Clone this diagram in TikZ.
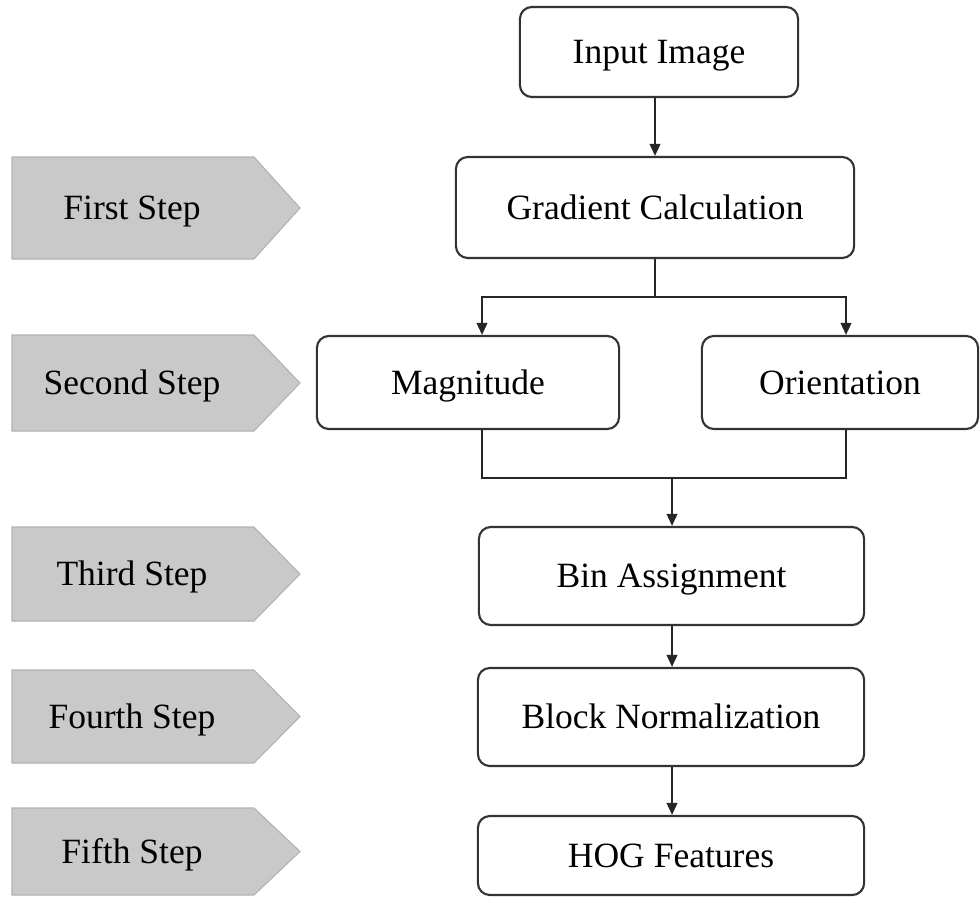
\documentclass[tikz,border=0pt]{standalone}
\usepackage{fontspec}
\setmainfont{Liberation Serif}
\usetikzlibrary{arrows.meta,calc}
\definecolor{stepgray}{RGB}{201,201,201}
\definecolor{stepedge}{RGB}{178,178,178}
\tikzset{
  flowbox/.style={draw=black!80, line width=0.6pt, rounded corners=3.4pt,
    fill=white, align=center, inner sep=0pt,
    text height=0.8em, text depth=0.14em,
    font=\fontsize{10.1}{12}\selectfont},
  steptag/.style={fill=stepgray, draw=stepedge, line width=0.3pt},
  steplabel/.style={inner sep=0pt, text height=0.8em, text depth=0.14em,
    font=\fontsize{10.1}{12}\selectfont},
  link/.style={draw=black!85, line width=0.55pt},
  arr/.style={link, -{Triangle[length=3.4pt,width=3pt]}}
}
% pentagon-shaped step tag: #1 name, #2 top y, #3 bottom y, #4 text
\newcommand{\steptag}[4]{%
  \draw[steptag] (12,#2) -- (254,#2) -- (300,{(#2+#3)/2}) -- (254,#3) -- (12,#3) -- cycle;
  \node[steplabel] (#1) at (132,{(#2+#3)/2}) {#4};
}
\begin{document}
\begin{tikzpicture}[x=0.01cm,y=-0.01cm]
\useasboundingbox (0,0) rectangle (980,900);

% step tags on the left
\steptag{s1}{157}{259}{First Step}
\steptag{s2}{335}{431}{Second Step}
\steptag{s3}{527}{621}{Third Step}
\steptag{s4}{670}{763}{Fourth Step}
\steptag{s5}{808}{895}{Fifth Step}

% processing stages
\node[flowbox, minimum width=2.78cm, minimum height=0.90cm] (input) at (659,52) {Input Image};
\node[flowbox, minimum width=3.98cm, minimum height=1.01cm] (grad) at (655,207.5) {Gradient Calculation};
\node[flowbox, minimum width=3.02cm, minimum height=0.93cm] (mag) at (468,382.5) {Magnitude};
\node[flowbox, minimum width=2.76cm, minimum height=0.93cm] (ori) at (840,382.5) {Orientation};
\node[flowbox, minimum width=3.85cm, minimum height=0.98cm] (bin) at (671.5,576) {Bin Assignment};
\node[flowbox, minimum width=3.86cm, minimum height=0.98cm] (block) at (671,717) {Block Normalization};
\node[flowbox, minimum width=3.86cm, minimum height=0.79cm] (hog) at (671,855.5) {HOG Features};

% connectors
\coordinate (split) at (655,297);
\coordinate (join) at (672,478);
\draw[arr] (input.south -| grad.north) -- (grad.north);
\draw[link] (grad.south) -- (split);
\draw[arr] (split) -| ([xshift=0.14cm]mag.north);
\draw[arr] (split) -| ([xshift=0.06cm]ori.north);
\draw[link] ([xshift=0.14cm]mag.south) |- (join);
\draw[link] ([xshift=0.06cm]ori.south) |- (join);
\draw[arr] (join) -- (join |- bin.north);
\draw[arr] (bin.south -| join) -- (block.north -| join);
\draw[arr] (block.south -| join) -- (hog.north -| join);
\end{tikzpicture}
\end{document}
